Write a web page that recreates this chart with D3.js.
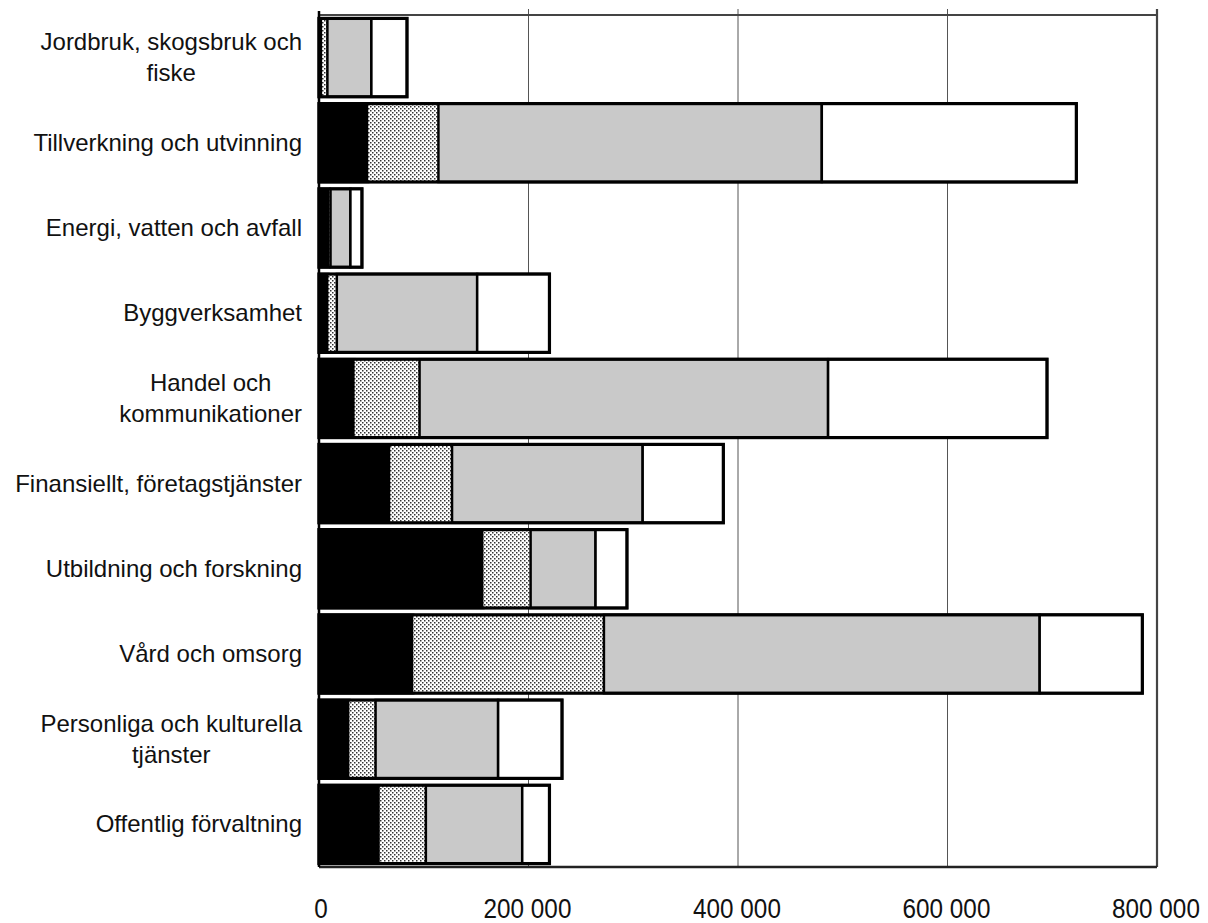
<!DOCTYPE html>
<html>
<head>
<meta charset="utf-8">
<script src="https://cdn.jsdelivr.net/npm/d3@7"></script>
<style>
  body { margin: 0; background: #fff; }
  svg { display: block; }
  .cat { font-family: "Liberation Sans", Arial, sans-serif; font-size: 24px; fill: #111; }
  .tick { font-family: "Liberation Sans", Arial, sans-serif; font-size: 27px; fill: #111; }
</style>
</head>
<body>
<svg id="chart" width="1208" height="923"></svg>
<script>
// sectors (each label may span two lines)
var categories = [
  ["Jordbruk, skogsbruk och", "fiske"],
  ["Tillverkning och utvinning"],
  ["Energi, vatten och avfall"],
  ["Byggverksamhet"],
  ["Handel och", "kommunikationer"],
  ["Finansiellt, företagstjänster"],
  ["Utbildning och forskning"],
  ["Vård och omsorg"],
  ["Personliga och kulturella", "tjänster"],
  ["Offentlig förvaltning"]
];

// four stacked groups
var seriesBlack  = [3000, 47000, 10000, 9000, 34000, 68000, 157000, 90000, 29000, 58000];
var seriesDotted = [5000, 67000, 1000, 8000, 62000, 59000, 45000, 182000, 25000, 44000];
var seriesGray   = [42000, 366000, 19000, 134000, 390000, 182000, 62000, 416000, 117000, 92000];
var seriesWhite  = [34000, 243000, 11000, 69000, 209000, 77000, 30000, 98000, 61000, 26000];

var tickValues = [0, 200000, 400000, 600000, 800000];
var tickLabels = ["0", "200 000", "400 000", "600 000", "800 000"];

var svg = d3.select("#chart");
// note: "top" is taken by window.top, so plot edges get own names
var plotL = 319, plotR = 1157, plotT = 15, plotB = 867;

var x = d3.scaleLinear().domain([0, 800000]).range([plotL, plotR]);
var y = d3.scaleBand().domain(d3.range(categories.length))
  .range([plotT, plotB]).paddingInner(0.08).paddingOuter(0.04);

// dotted fill
var defs = svg.append("defs");
var pat = defs.append("pattern").attr("id", "dots")
  .attr("patternUnits", "userSpaceOnUse").attr("width", 4).attr("height", 4);
pat.append("rect").attr("width", 4).attr("height", 4).attr("fill", "#fff");
pat.append("rect").attr("x", 0).attr("y", 0).attr("width", 1.5).attr("height", 1.5).attr("fill", "#333");
pat.append("rect").attr("x", 2).attr("y", 2).attr("width", 1.5).attr("height", 1.5).attr("fill", "#333");

// gridlines
svg.append("g").selectAll("line").data(tickValues.slice(1, 4)).enter().append("line")
  .attr("x1", function(d){ return x(d); }).attr("x2", function(d){ return x(d); })
  .attr("y1", plotT - 6).attr("y2", plotB)
  .attr("stroke", "#555").attr("stroke-width", 1);

// frame: top and right greyish, left/bottom solid
svg.append("line").attr("x1", plotL).attr("x2", plotR).attr("y1", plotT).attr("y2", plotT)
  .attr("stroke", "#444").attr("stroke-width", 2.2);
svg.append("line").attr("x1", plotR).attr("x2", plotR).attr("y1", plotT - 6).attr("y2", plotB)
  .attr("stroke", "#444").attr("stroke-width", 2.2);
svg.append("line").attr("x1", plotL).attr("x2", plotR).attr("y1", plotB).attr("y2", plotB)
  .attr("stroke", "#222").attr("stroke-width", 2.5);
svg.append("line").attr("x1", plotL).attr("x2", plotL).attr("y1", plotT - 4).attr("y2", plotB)
  .attr("stroke", "#000").attr("stroke-width", 2.5);

var fills = ["#000", "url(#dots)", "#c9c9c9", "#fff"];
var seriesList = [seriesBlack, seriesDotted, seriesGray, seriesWhite];

var rows = categories.map(function(c, i){
  var row = { i: i };
  seriesList.forEach(function(s, k){ row["s" + k] = s[i]; });
  return row;
});
var stack = d3.stack().keys(["s0", "s1", "s2", "s3"]);
var layers = stack(rows);

var barG = svg.append("g");
layers.forEach(function(layer, k){
  barG.append("g").selectAll("rect").data(layer).enter().append("rect")
    .attr("x", function(d){ return x(d[0]); })
    .attr("width", function(d){ return x(d[1]) - x(d[0]); })
    .attr("y", function(d, i){ return y(i); })
    .attr("height", y.bandwidth())
    .attr("fill", fills[k])
    .attr("stroke", "#000").attr("stroke-width", k == 1 ? 0 : 2.5);
});
// outline of each whole bar
barG.append("g").selectAll("rect").data(layers[3]).enter().append("rect")
  .attr("x", function(d){ return x(0); })
  .attr("width", function(d){ return x(d[1]) - x(0); })
  .attr("y", function(d, i){ return y(i); })
  .attr("height", y.bandwidth())
  .attr("fill", "none").attr("stroke", "#000").attr("stroke-width", 3.2);

// category labels: block right aligned, lines centred within it
var labelRight = 302, lineH = 31;
categories.forEach(function(lines, i){
  var g = svg.append("g");
  var cy = y(i) + y.bandwidth() / 2;
  var texts = lines.map(function(t, j){
    return g.append("text").attr("class", "cat").attr("text-anchor", "middle")
      .attr("y", cy + (j - (lines.length - 1) / 2) * lineH + 8).text(t);
  });
  var w = d3.max(texts, function(t){ return t.node().getComputedTextLength(); });
  texts.forEach(function(t){ t.attr("x", labelRight - w / 2); });
});

// x tick labels, squeezed a bit like the narrow face in the original
svg.append("g").selectAll("text").data(tickValues).enter().append("text")
  .attr("class", "tick").attr("text-anchor", "middle")
  .attr("transform", function(d, i){
    return "translate(" + (i == 0 ? x(d) + 2 : x(d) - 1) + ",918) scale(0.9,1)";
  })
  .text(function(d, i){ return tickLabels[i]; });
</script>
</body>
</html>
